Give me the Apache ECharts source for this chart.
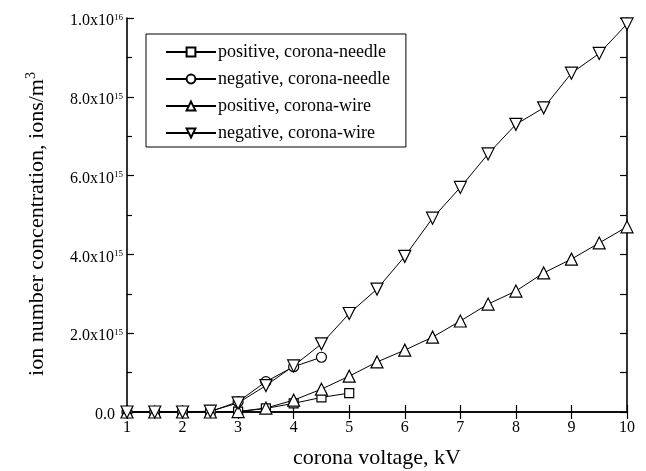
<!DOCTYPE html>
<html>
<head>
<meta charset="utf-8">
<script src="https://cdn.jsdelivr.net/npm/echarts@6/dist/echarts.min.js"></script>
<style>
  html, body { margin: 0; padding: 0; background: #fff; }
  #chart { width: 646px; height: 471px; }
</style>
</head>
<body>
<div id="chart"></div>
<script>
// corona voltage, kV
const voltage = [1, 1.5, 2, 2.5, 3, 3.5, 4, 4.5, 5, 5.5, 6, 6.5, 7, 7.5, 8, 8.5, 9, 9.5, 10];
// ion number concentration, units of 1e15 ions/m3
const posNeedle = [0, 0, 0, 0, 0.01, 0.09, 0.22, 0.37, 0.48];
const negNeedle = [0, 0, 0, 0.01, 0.26, 0.77, 1.15, 1.39];
const posWire = [0, 0, 0, 0, 0.01, 0.1, 0.3, 0.58, 0.91, 1.27, 1.57, 1.9, 2.31, 2.74, 3.07, 3.53, 3.88, 4.29, 4.7];
const negWire = [0, 0, 0, 0.02, 0.23, 0.67, 1.17, 1.73, 2.5, 3.12, 3.95, 4.92, 5.7, 6.55, 7.3, 7.72, 8.6, 9.1, 9.85];
const yTicks = ['0.0', '2.0x10|15', '4.0x10|15', '6.0x10|15', '8.0x10|15', '1.0x10|16'];

const FONT = '"Liberation Serif", "DejaVu Serif", serif';

function pairs(vals) {
    return vals.map((v, i) => [voltage[i], v * 1e15]);
}

function series(name, vals, symbol, size, rotate) {
    return {
        name: name,
        type: 'line',
        data: pairs(vals),
        symbol: symbol,
        symbolSize: size,
        symbolRotate: rotate || 0,
        showAllSymbol: true,
        lineStyle: {color: '#000', width: 1},
        itemStyle: {color: '#fff', borderColor: '#000', borderWidth: 1.2},
        emphasis: {disabled: true},
        z: 3
    };
}

const axisLine = {lineStyle: {color: '#000', width: 1.6}};

const option = {
    animation: false,
    backgroundColor: '#fff',
    textStyle: {fontFamily: FONT},
    grid: {left: 127, right: 19, top: 18, bottom: 59, outerBoundsMode: 'none'},
    legend: {
        orient: 'vertical',
        left: 146,
        top: 34,
        padding: [9, 16, 5, 19],
        itemGap: 9,
        itemWidth: 50,
        itemHeight: 11,
        borderColor: '#000',
        borderWidth: 1,
        backgroundColor: '#fff',
        textStyle: {fontFamily: FONT, fontSize: 18, color: '#000', padding: [0, 0, 0, -3]},
        data: ['positive, corona-needle', 'negative, corona-needle', 'positive, corona-wire', 'negative, corona-wire']
    },
    xAxis: [{
        type: 'value',
        min: 1, max: 10, interval: 1,
        name: 'corona voltage, kV',
        nameLocation: 'middle',
        nameGap: 35,
        nameTextStyle: {fontFamily: FONT, fontSize: 22, color: '#000'},
        axisLine: axisLine,
        axisTick: {inside: true, length: 7, lineStyle: {color: '#000', width: 1.2}},
        axisLabel: {fontFamily: FONT, fontSize: 16, color: '#000', margin: 8},
        splitLine: {show: false}
    }, {
        type: 'value',
        position: 'top',
        min: 1, max: 10, interval: 1,
        axisLine: axisLine,
        axisTick: {inside: true, length: 7, lineStyle: {color: '#000', width: 1.2}},
        axisLabel: {show: false},
        splitLine: {show: false}
    }],
    yAxis: [{
        type: 'value',
        min: 0, max: 1e16, interval: 2e15,
        name: 'ion number concentration, ions/m{s|3}',
        nameLocation: 'middle',
        nameGap: 77,
        nameTextStyle: {
            fontFamily: FONT, fontSize: 22, color: '#000',
            padding: [0, 18, 0, 0],
            rich: {s: {fontFamily: FONT, fontSize: 14, color: '#000', verticalAlign: 'top', padding: [0, 0, 12, 0]}}
        },
        axisLine: axisLine,
        axisTick: {inside: true, length: 7, lineStyle: {color: '#000', width: 1.2}},
        minorTick: {show: true, splitNumber: 2, length: 5, lineStyle: {color: '#000', width: 1.2}},
        axisLabel: {
            fontFamily: FONT, fontSize: 16, color: '#000', margin: 4,
            padding: [6, 0, 0, 0],
            formatter: function (v) {
                const t = yTicks[Math.round(v / 2e15)];
                const p = t.split('|');
                return p.length > 1 ? '{m|' + p[0] + '}{s|' + p[1] + '}' : '{z|' + p[0] + '}';
            },
            rich: {
                m: {fontFamily: FONT, fontSize: 16, color: '#000', lineHeight: 16},
                z: {fontFamily: FONT, fontSize: 16, color: '#000', lineHeight: 16, padding: [0, 8, 0, 0]},
                s: {fontFamily: FONT, fontSize: 9, color: '#000', lineHeight: 10, verticalAlign: 'top'}
            }
        },
        splitLine: {show: false}
    }, {
        type: 'value',
        position: 'right',
        min: 0, max: 1e16, interval: 1e15,
        axisLine: axisLine,
        axisTick: {inside: true, length: 7, lineStyle: {color: '#000', width: 1.2}},
        axisLabel: {show: false},
        splitLine: {show: false}
    }],
    series: [
        series('positive, corona-needle', posNeedle, 'rect', 9),
        series('negative, corona-needle', negNeedle, 'circle', 10),
        series('positive, corona-wire', posWire, 'triangle', 12),
        series('negative, corona-wire', negWire, 'triangle', 12, 180)
    ]
};

const chart = echarts.init(document.getElementById('chart'));
chart.setOption(option);
</script>
</body>
</html>
